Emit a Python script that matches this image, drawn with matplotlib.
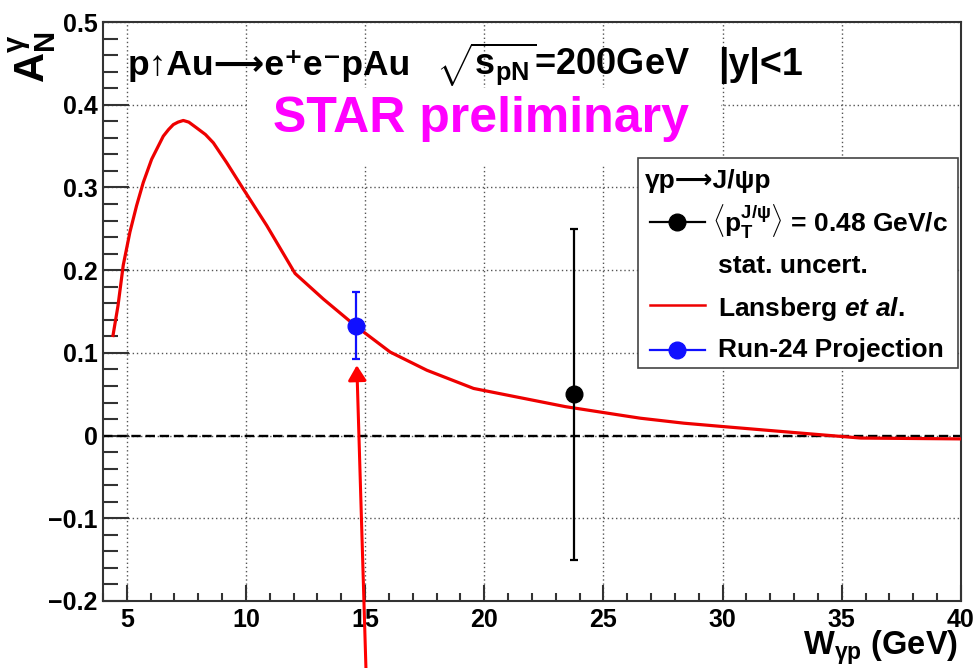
import matplotlib
matplotlib.use('Agg')
import matplotlib.pyplot as plt
from matplotlib.lines import Line2D
from matplotlib.patches import Rectangle
from matplotlib.ticker import MultipleLocator, FuncFormatter

# Lansberg et al. prediction
lansberg_w = [4.42, 4.63, 4.85, 5.13, 5.41, 5.69, 6.04, 6.53, 6.75, 6.95, 7.15, 7.37, 7.6, 7.93,
              8.3, 8.63, 9.19, 9.89, 10.87, 12.06, 13.25, 14.58, 16.05, 17.59, 19.55, 21.65,
              23.4, 25.64, 26.55, 28.37, 29.98, 33.28, 35.8, 40.0]
lansberg_an = [0.121, 0.157, 0.206, 0.246, 0.278, 0.306, 0.334, 0.362, 0.370, 0.376, 0.379, 0.381,
               0.379, 0.372, 0.364, 0.354, 0.330, 0.298, 0.254, 0.196, 0.165, 0.133, 0.101,
               0.079, 0.057, 0.045, 0.035, 0.025, 0.021, 0.015, 0.011, 0.003, -0.003, -0.004]

# STAR preliminary measurement, stat. uncert.
star_w = [23.75]
star_an = [0.05]
star_err = [0.2]

# Run-24 projection
proj_w = [14.6]
proj_an = [0.133]
proj_err = [0.04]

plt.rcParams['font.family'] = ['Liberation Sans', 'DejaVu Sans']
plt.rcParams['font.weight'] = 'bold'
plt.rcParams['mathtext.fontset'] = 'custom'
plt.rcParams['mathtext.rm'] = 'Liberation Sans:bold'
plt.rcParams['mathtext.it'] = 'Liberation Sans:italic:bold'
plt.rcParams['mathtext.bf'] = 'Liberation Sans:bold'
plt.rcParams['mathtext.sf'] = 'Liberation Sans:bold'

fig = plt.figure(figsize=(9.78, 6.68), dpi=100)
ax = fig.add_axes([0.1053, 0.1003, 0.8773, 0.8667])
ax.set_xlim(4, 40)
ax.set_ylim(-0.2, 0.5)

ax.xaxis.set_major_locator(MultipleLocator(5))
ax.xaxis.set_minor_locator(MultipleLocator(1))
ax.yaxis.set_major_locator(MultipleLocator(0.1))
ax.yaxis.set_minor_locator(MultipleLocator(0.02))
ax.yaxis.set_major_formatter(FuncFormatter(
    lambda v, p: '0' if abs(v) < 1e-9 else f'{v:.1f}'.replace('-', '\u2212')))

for s in ax.spines.values():
    s.set_linewidth(1.5)
    s.set_color('#333333')
ax.tick_params(axis='y', which='major', direction='in', length=19, width=1.5,
               color='#333333', labelsize=18, pad=4)
ax.tick_params(axis='y', which='minor', direction='in', length=10.5, width=1.5, color='#333333')
ax.tick_params(axis='x', which='major', direction='in', length=11.5, width=1.5,
               color='#333333', labelsize=18, pad=5)
ax.tick_params(axis='x', which='minor', direction='in', length=5.5, width=1.5, color='#333333')

ax.set_axisbelow(True)
ax.grid(True, which='major', linestyle=(0, (1, 2)), color='#555555', linewidth=1)

# white box behind "STAR preliminary" hides the grid there
ax.add_patch(Rectangle((10.05, 0.327), 19.9, 0.093, facecolor='white', edgecolor='none', zorder=1))

ax.axhline(0, color='black', linestyle=(0, (4, 2)), linewidth=1.7, zorder=2)

ax.plot(lansberg_w, lansberg_an, color='#ee0000', linewidth=2.3, zorder=3)

ax.errorbar(star_w, star_an, yerr=star_err, fmt='o', color='black', markersize=12,
            elinewidth=1.6, capsize=3, capthick=1.6, zorder=4)
ax.errorbar(proj_w, proj_an, yerr=proj_err, fmt='o', color='#1010ff', markersize=12,
            elinewidth=1.6, capsize=3, capthick=1.6, zorder=4)

# red arrow pointing at the projection
ax.annotate('', xy=(proj_w[0] + 0.05, proj_an[0] - proj_err[0] - 0.008),
            xytext=(366, -2), textcoords='figure pixels',
            arrowprops=dict(arrowstyle='-|>,head_length=0.9,head_width=0.55',
                            color='#ff0000', lw=2.2, mutation_scale=10, shrinkA=0, shrinkB=0),
            annotation_clip=False, zorder=6)

# text on the pad
ax.text(0.029, 0.908, 'p\u2191Au\u27f6e\u207ae\u207bpAu', transform=ax.transAxes,
        fontsize=25.5, va='baseline', ha='left')
ax.text(0.388, 0.908, r'$\sqrt{\mathrm{s_{pN}}}$=200GeV', transform=ax.transAxes,
        fontsize=26, va='baseline', ha='left')
ax.text(0.717, 0.908, '|y|<1', transform=ax.transAxes,
        fontsize=27, va='baseline', ha='left')
ax.text(0.198, 0.810, 'STAR preliminary', transform=ax.transAxes, color='#ff00ff',
        fontsize=36, va='baseline', ha='left')

# axis titles
ax.text(-0.083, 0.983, r'$\mathrm{A_{N}^{\gamma}}$', transform=ax.transAxes,
        fontsize=30, rotation=90, ha='center', va='top')
ax.text(0.9965, -0.092, r'W$_{\mathrm{\gamma p}}$ (GeV)', transform=ax.transAxes,
        fontsize=23.5, ha='right', va='baseline')

# legend
ax.add_patch(Rectangle((0.6235, 0.4024), 0.373, 0.3627, transform=ax.transAxes,
                       facecolor='white', edgecolor='#444444', linewidth=1.2, zorder=5))
ax.text(0.6317, 0.7133, '\u03b3p\u27f6J/\u03c8p', transform=ax.transAxes,
        fontsize=19, va='baseline', zorder=6)
ax.add_line(Line2D([0.6375, 0.7016], [0.6546, 0.6546], transform=ax.transAxes, color='black',
                   linewidth=1.6, zorder=6))
ax.add_line(Line2D([0.6696], [0.6546], transform=ax.transAxes, color='black',
                   marker='o', markersize=12, zorder=6))
ax.text(0.7098, 0.6373, r'$\langle\mathrm{p_{T}^{J/\psi}}\rangle$ = 0.48 GeV/c',
        transform=ax.transAxes, fontsize=19, va='baseline', zorder=6)
ax.text(0.7168, 0.5665, 'stat. uncert.', transform=ax.transAxes,
        fontsize=19, va='baseline', zorder=6)
ax.add_line(Line2D([0.6375, 0.7016], [0.5112, 0.5112], transform=ax.transAxes,
                   color='#ee0000', linewidth=1.8, zorder=6))
ax.text(0.7168, 0.4922, r'Lansberg $\mathit{et\ al.}$', transform=ax.transAxes,
        fontsize=19, va='baseline', zorder=6)
ax.add_line(Line2D([0.6375, 0.7016], [0.4335, 0.4335], transform=ax.transAxes,
                   color='#1010ff', linewidth=1.6, zorder=6))
ax.add_line(Line2D([0.6696], [0.4335], transform=ax.transAxes, color='#1010ff',
                   marker='o', markersize=12, zorder=6))
ax.text(0.7168, 0.4214, 'Run-24 Projection', transform=ax.transAxes,
        fontsize=19, va='baseline', zorder=6)

fig.savefig('out.png', dpi=100)
